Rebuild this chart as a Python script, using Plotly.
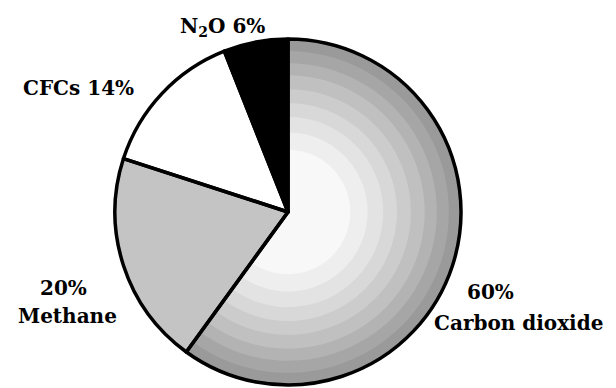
import plotly.graph_objects as go

# ---- data ----
labels = ["Carbon dioxide", "Methane", "CFCs", "N2O"]
values = [60, 20, 14, 6]
label_lines = ["60%", "Carbon dioxide", "20%", "Methane", "CFCs 14%", "N<sub>2</sub>O 6%"]

# ---- styles ----
base_colors = ["#f8f8f8", "#c4c4c4", "#ffffff", "#000000"]
ring_holes = [0.36, 0.46, 0.55, 0.63, 0.71, 0.79, 0.86, 0.93]
ring_colors = ["#eeeeee", "#e3e3e3", "#d8d8d8", "#cccccc", "#c0c0c0", "#b3b3b3", "#a6a6a6", "#9a9a9a"]

OFF = 8  # page body margin
W, H = 616, 388


def px(x):
    return (x - OFF) / W


def py(y):
    return 1 - (y - OFF) / H


cx, cy, r = 288, 212, 173
dom = dict(x=[px(cx - r), px(cx + r)], y=[py(cy + r), py(cy - r)])
common = dict(labels=labels, values=values, sort=False, direction="clockwise",
              rotation=0, textinfo="none", hoverinfo="skip", domain=dom, showlegend=False)

fig = go.Figure()
fig.add_trace(go.Pie(marker=dict(colors=base_colors, line=dict(width=0)), **common))
for h, c in zip(ring_holes, ring_colors):
    fig.add_trace(go.Pie(hole=h, marker=dict(colors=[c, "rgba(0,0,0,0)", "rgba(0,0,0,0)", "rgba(0,0,0,0)"],
                                             line=dict(width=0)), **common))
fig.add_trace(go.Pie(marker=dict(colors=["rgba(0,0,0,0)"] * 4, line=dict(color="black", width=3.5)), **common))

font = dict(family="DejaVu Serif", size=20, color="black")
ann_pos = [(490, 292), (518, 323), (63, 288), (67, 316), (78, 88), (222, 27)]
for t, (x, y) in zip(label_lines, ann_pos):
    fig.add_annotation(x=px(x), y=py(y), xref="paper", yref="paper", text="<b>" + t + "</b>",
                       showarrow=False, font=font, xanchor="center", yanchor="middle")

fig.update_layout(width=W, height=H, margin=dict(l=0, r=0, t=0, b=0),
                  paper_bgcolor="white", plot_bgcolor="white")
fig.write_html("out.html")
